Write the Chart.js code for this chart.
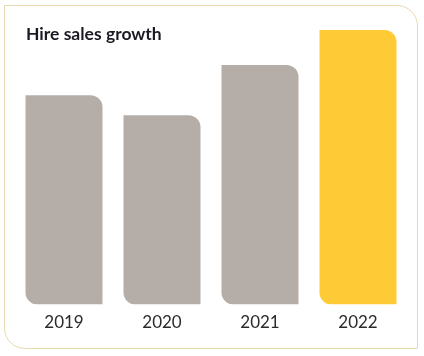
<!DOCTYPE html>
<html>
<head>
<meta charset="utf-8">
<script src="https://cdn.jsdelivr.net/npm/chart.js@4"></script>
<style>
  html, body { margin: 0; padding: 0; background: #ffffff; }
  #wrap { position: relative; width: 424px; height: 356px; overflow: hidden; }
  #frame { position: absolute; left: 4px; top: 5px; width: 412px; height: 342px;
           border: 1.5px solid #e6dbb0; border-radius: 0 21px 0 21px; }
  #title { position: absolute; left: 26px; top: 23px; font-family: Lato, sans-serif;
           font-weight: 700; font-size: 17.5px; color: #1b1a22; white-space: nowrap; }
  #c { position: absolute; left: 0; top: 0; }
</style>
</head>
<body>
<div id="wrap">
  <div id="frame"></div>
  <canvas id="c" width="424" height="356"></canvas>
  <div id="title">Hire sales growth</div>
</div>
<script>
const titleText = "Hire sales growth";
const categories = ["2019", "2020", "2021", "2022"];
const values = [209, 189, 239, 274];
const barColors = ["#b5aea8", "#b5aea8", "#b5aea8", "#fecb36"];

document.getElementById('title').textContent = titleText;

new Chart(document.getElementById('c'), {
  type: 'bar',
  data: {
    labels: categories,
    datasets: [{
      data: values,
      backgroundColor: barColors,
      borderWidth: 0,
      borderSkipped: false,
      borderRadius: { topLeft: 0, topRight: 12, bottomLeft: 12, bottomRight: 0 },
      categoryPercentage: 1,
      barPercentage: 0.786
    }]
  },
  options: {
    responsive: false,
    animation: false,
    layout: { padding: { left: 15, right: 17, top: 30, bottom: 15 } },
    plugins: { legend: { display: false }, tooltip: { enabled: false }, title: { display: false } },
    scales: {
      x: {
        grid: { display: false, drawTicks: false },
        border: { display: false },
        ticks: { color: '#2b2b2b', padding: 8, font: { family: 'Lato', size: 17, weight: '400' } }
      },
      y: { display: false, min: 0, max: 274 }
    }
  }
});
</script>
</body>
</html>
